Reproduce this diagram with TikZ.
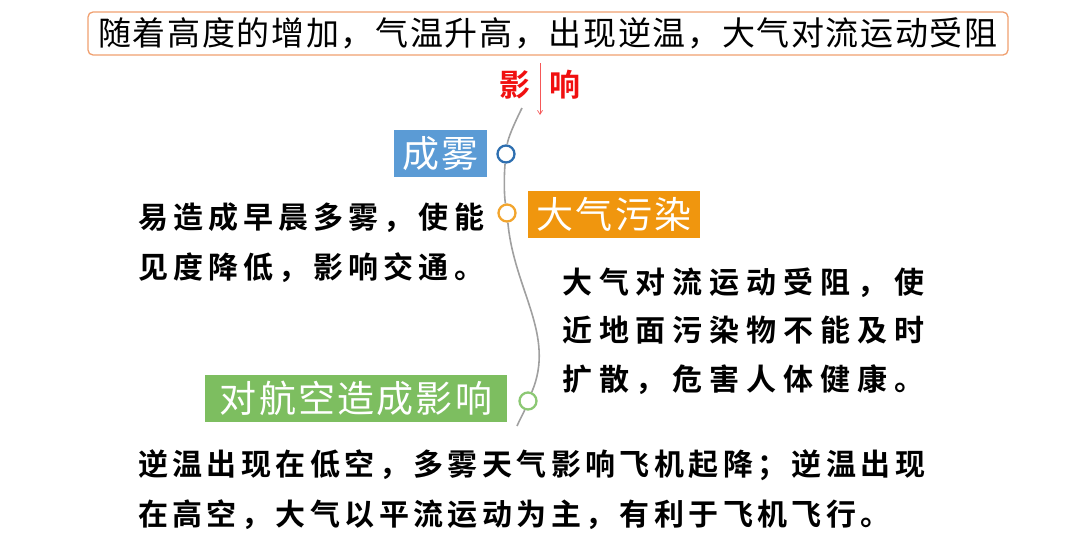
\documentclass[tikz,border=0pt]{standalone}
\usepackage{fontspec}
\usetikzlibrary{arrows.meta}
\newfontfamily\cjk{Noto Sans CJK SC}[BoldFont={Noto Sans CJK SC Bold}]
\definecolor{boxblue}{HTML}{5B9BD5}
\definecolor{boxorange}{HTML}{F0960E}
\definecolor{boxgreen}{HTML}{7DBE60}
\definecolor{cblue}{HTML}{2E6FB0}
\definecolor{corange}{HTML}{F2A52E}
\definecolor{cgreen}{HTML}{8CC874}
\definecolor{topborder}{HTML}{F0A070}
\definecolor{redtxt}{HTML}{F01010}
\definecolor{curvegray}{HTML}{A0A0A0}
\tikzset{
  label box/.style={fill=#1, text=white, inner sep=0pt, minimum height=47pt,
    font=\cjk\fontsize{37}{40}\selectfont\addfontfeature{LetterSpace=6}},
  dot/.style={circle, draw=#1, fill=white, line width=2.3pt, minimum size=17pt, inner sep=0pt},
  body/.style={anchor=west, inner sep=0pt,
    font=\cjk\bfseries\fontsize{30}{34}\selectfont\addfontfeature{LetterSpace=#1}},
  body/.default=17,
  curve/.style={draw=curvegray, line width=1.6pt},
}
\begin{document}
\begin{tikzpicture}[x=1pt,y=-1pt]
\useasboundingbox (0,0) rectangle (1080,536);
% top box
\node[draw=topborder, line width=1.3pt, rounded corners=5pt, fill=white,
  minimum width=920pt, minimum height=43pt, inner sep=0pt,
  font=\cjk\fontsize{33}{36}\selectfont\addfontfeature{LetterSpace=5}] (top) at (548,33.5)
  {随着高度的增加，气温升高，出现逆温，大气对流运动受阻};
% influence label and arrow
\node[text=redtxt, font=\cjk\bfseries\fontsize{31}{34}\selectfont, inner sep=0pt] (ying) at (515,85) {影};
\node[text=redtxt, font=\cjk\bfseries\fontsize{31}{34}\selectfont, inner sep=0pt] (xiang) at (565,85) {响};
\coordinate (arrs) at (540,63);
\coordinate (arre) at (540,115);
\draw[redtxt!70, line width=0.7pt, -{Straight Barb[length=4pt,width=5pt]}] (arrs) -- (arre);
% curve nodes
\coordinate (ctop) at (522,108);
\coordinate (cbot) at (517,426);
\node[dot=cblue] (d1) at (506,154) {};
\node[dot=corange] (d2) at (507,213) {};
\node[dot=cgreen] (d3) at (528,401) {};
\draw[curve] (ctop) .. controls (514,124) and (508,138) .. (d1);
\draw[curve] (d1) .. controls (504,175) and (504,195) .. (d2);
\draw[curve] (d2) .. controls (514,290) and (556,335) .. (d3);
\draw[curve] (d3) .. controls (524,412) and (520,419) .. (cbot);
% label boxes
\node[label box=boxblue, minimum width=93pt] (fog) at (440.5,153.5) {成雾};
\node[label box=boxorange, minimum width=172pt] (poll) at (614,214) {大气污染};
\node[label box=boxgreen, minimum width=302pt] (avi) at (356,398.5) {对航空造成影响};
% body texts
\node[body=17] (t1) at (138,218) {易造成早晨多雾，使能};
\node[body=17] (t2) at (138,268) {见度降低，影响交通。};
\node[body=23] (t3) at (562,283) {大气对流运动受阻，使};
\node[body=23] (t4) at (562,330) {近地面污染物不能及时};
\node[body=23] (t5) at (562,380) {扩散，危害人体健康。};
\node[body=14.7] (t6) at (138,465) {逆温出现在低空，多雾天气影响飞机起降；逆温出现};
\node[body=14.7] (t7) at (138,515) {在高空，大气以平流运动为主，有利于飞机飞行。};
\end{tikzpicture}
\end{document}
